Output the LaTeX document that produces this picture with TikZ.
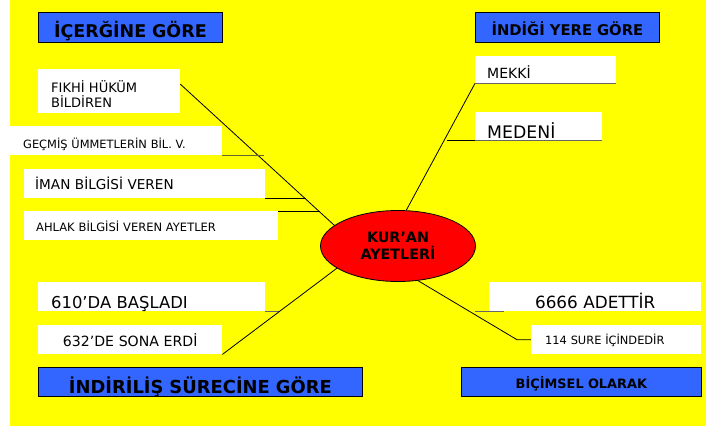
\documentclass[tikz,border=0pt]{standalone}
\usepackage{fontspec}
\setmainfont{DejaVu Sans}
\usepackage{tikz}
\usetikzlibrary{shapes.geometric}
\definecolor{bgyellow}{HTML}{FFFF00}
\definecolor{headblue}{HTML}{3366FF}
\definecolor{stubgray}{HTML}{666666}
\definecolor{stubolive}{HTML}{66662E}

\newcommand{\fsz}[2]{\fontsize{#1}{#2}\selectfont}

\begin{document}
\begin{tikzpicture}[x=1pt, y=-1pt,
    item/.style={rectangle, fill=white, anchor=north west, inner ysep=0pt, align=left},
    itemc/.style={item, inner xsep=0pt, align=center},
    head/.style={rectangle, draw=black, line width=0.8pt, fill=headblue, anchor=north west, inner xsep=0pt, inner ysep=0pt, align=center},
    hub/.style={ellipse, draw=black, line width=0.8pt, fill=red, minimum width=155pt, minimum height=71pt, inner sep=0pt, align=center, font=\bfseries\fsz{14.3}{17.5}},
    link/.style={line width=0.8pt}
]
    \useasboundingbox (0,0) rectangle (706,426);
    \fill[white] (0,0) rectangle (706,426);
    \fill[bgyellow] (10,0) rectangle (706,426);

    % headings
    \node[head, text width=184pt, text height=25pt, text depth=5pt, font=\bfseries\fsz{17.5}{20}] (icerik) at (38,12) {İÇERĞİNE GÖRE};
    \node[head, text width=184pt, text height=23pt, text depth=7pt, font=\bfseries\fsz{14.8}{17}] (yer) at (475,12) {İNDİĞİ YERE GÖRE};
    \node[head, text width=324pt, text height=26pt, text depth=3pt, font=\bfseries\fsz{17.9}{20}] (surec) at (38,367) {İNDİRİLİŞ SÜRECİNE GÖRE};
    \node[head, text width=240pt, text height=21pt, text depth=8pt, font=\bfseries\fsz{12.9}{15}] (bicim) at (461,367) {BİÇİMSEL OLARAK};

    % content boxes
    \node[item, inner xsep=13pt, text width=116pt, text height=23pt, text depth=21pt, font=\fsz{13}{15}] (fikhi) at (38,69) {FIKHİ HÜKÜM\\BİLDİREN};
    \node[item, inner xsep=13pt, text width=186pt, text height=22pt, text depth=7pt, font=\fsz{11.4}{14}] (gecmis) at (10,126) {GEÇMİŞ ÜMMETLERİN BİL. V.};
    \node[item, inner xsep=11pt, text width=219pt, text height=20pt, text depth=9pt, font=\fsz{13.6}{16}] (iman) at (24,169) {İMAN BİLGİSİ VEREN};
    \node[item, inner xsep=12pt, text width=230pt, text height=20pt, text depth=9pt, font=\fsz{11.5}{14}] (ahlak) at (24,211) {AHLAK BİLGİSİ VEREN AYETLER};
    \node[item, inner xsep=12pt, text width=117pt, text height=22pt, text depth=5pt, font=\fsz{14}{16}] (mekki) at (475,56) {MEKKİ};
    \node[item, inner xsep=12pt, text width=103pt, text height=26pt, text depth=2pt, font=\fsz{17.3}{20}] (medeni) at (475,112) {MEDENİ};
    \node[item, inner xsep=13pt, text width=201pt, text height=26pt, text depth=3pt, font=\fsz{16.4}{19}] (basladi) at (38,282) {610’DA BAŞLADI};
    \node[itemc, text width=184pt, text height=21pt, text depth=8pt, font=\fsz{14.1}{17}] (erdi) at (38,325) {632’DE SONA ERDİ};
    \node[itemc, text width=212pt, text height=26pt, text depth=3pt, font=\fsz{16.8}{19}] (adet) at (489,282) {6666 ADETTİR};
    \node[item, inner xsep=14pt, text width=142pt, text height=19pt, text depth=10pt, font=\fsz{11.4}{14}] (sure) at (531,325) {114 SURE İÇİNDEDİR};

    % centre
    \node[hub] (ayet) at (398,246) {KUR’AN\\AYETLERİ};

    % connectors
    \draw[link] ([yshift=7pt]fikhi.east) -- (ayet.162);
    \draw[link, stubolive] (gecmis.south east) -- ++(42,0);
    \draw[link] (iman.south east) -- ++(41,0);
    \draw[link] (ahlak.north east) -- ++(42,0);
    \draw[link] (mekki.south west) -- (ayet.77);
    \draw[link, stubgray] (mekki.south west) -- (mekki.south east);
    \draw[link, stubgray] (medeni.south west) -- (medeni.south east);
    \draw[link] (medeni.south west) -- ++(-28,0);
    \draw[link, stubgray] (basladi.south east) -- ++(14,0);
    \draw[link] (erdi.south east) -- (ayet.200);
    \draw[link, stubgray] ([xshift=-14pt]adet.south west) -- ++(29,0);
    \draw[link] (ayet.300) -- ([xshift=-14pt]sure.west) -- (sure.west);
\end{tikzpicture}
\end{document}
